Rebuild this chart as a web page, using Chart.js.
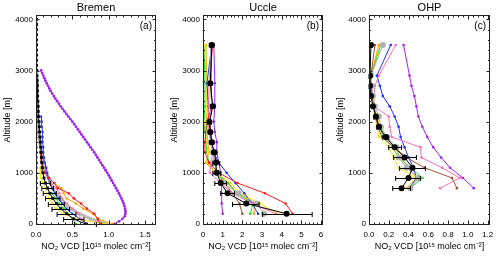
<!DOCTYPE html>
<html><head><meta charset="utf-8">
<script src="https://cdn.jsdelivr.net/npm/chart.js@4"></script>
<style>
html,body{margin:0;padding:0;background:#fff;width:500px;height:256px;overflow:hidden}
canvas{position:absolute;top:0}
</style></head><body>
<canvas id="ca" width="167" height="256" style="left:0px"></canvas>
<canvas id="cb" width="166" height="256" style="left:167px"></canvas>
<canvas id="cc" width="167" height="256" style="left:333px"></canvas>
<script>
// ---------- axis tick labels ----------
const altTicks = [0,1000,2000,3000,4000];
const bremenXTicks = [0,0.5,1.0,1.5];
const uccleXTicks = [0,1,2,3,4,5,6];
const ohpXTicks = [0,0.2,0.4,0.6,0.8,1.0,1.2];

// ---------- Bremen (a) ----------
const bremenAlt = [0,100,200,300,400,500,600,700,800,900,1000,1100,1200,1300,1400,1500,1600,1700,1800,1900,2000,2100,2200,2300,2400,2500,2600,2700,2800,2900,3000,3100,3200,3300,3400,3500,3600,3700,3800,3900,4000];
const bremenBlack = [0.68,0.52,0.42,0.34,0.28,0.23,0.19,0.16,0.13,0.11,0.095,0.085,0.08,0.075,0.07,0.065,0.06,0.055,0.05,0.045,0.04,0.035,0.03,0.028,0.025,0.022,0.02,0.018,0.015,0.012,0.01,0.008,0.008,0.008,0.008,0.008,0.008,0.008,0.008,0.008,0.008];
const bremenBlackErrLo = [0.53,0.38,0.29,0.22,0.17,0.13,0.10,0.08,0.06];
const bremenBlackErrHi = [0.83,0.66,0.55,0.46,0.39,0.33,0.28,0.24,0.20];
const bremenGray = [0.97,0.75,0.6,0.48,0.4,0.33,0.27,0.23,0.2,0.17,0.15,0.13,0.11,0.09,0.08,0.07,0.05,0.04,0.035,0.03,0.03,0.028,0.026,0.024,0.022,0.02,0.018,0.016,0.014,0.012,0.01];
const bremenBlue = [0.7,0.6,0.5,0.42,0.36,0.3,0.26,0.22,0.19,0.17,0.15,0.14,0.12,0.11,0.1,0.1,0.09,0.09,0.09,0.08,0.08,0.07];
const bremenBrown = [0.004,0.004,0.004,0.004,0.004,0.004,0.004,0.004,0.004,0.004,0.004,0.004,0.004,0.004,0.004,0.004];
const bremenRed = [0.88,0.85,0.8,0.7,0.62,0.52,0.45,0.3,0.25,0.18,0.12,0.1,0.08,0.07,0.06];
const bremenOrange = [1.05,0.85,0.78,0.65,0.55,0.42,0.38,0.35,0.25];
const bremenGreen = [0.55,0.5,0.44,0.38,0.32,0.27,0.22];
const bremenYellow = [0.95,0.55,0.38,0.28,0.22,0.18,0.15,0.12,0.1,0.07,0.06,0.06];
const bremenPink = [0.7,0.62,0.58,0.5,0.42,0.36,0.32,0.28,0.2];
const bremenPurpleAlt = [0,50,100,150,200,250,300,350,400,450,500,550,600,650,700,750,800,850,900,950,1000,1050,1100,1150,1200,1250,1300,1350,1400,1450,1500,1550,1600,1650,1700,1750,1800,1850,1900,1950,2000,2050,2100,2150,2200,2250,2300,2350,2400,2450,2500,2550,2600,2650,2700,2750,2800,2850,2900,2950,3000];
const bremenPurple = [1.08,1.14,1.19,1.22,1.23,1.23,1.225,1.215,1.205,1.19,1.175,1.157,1.14,1.12,1.10,1.08,1.06,1.04,1.02,1.0,0.98,0.957,0.935,0.912,0.89,0.867,0.845,0.822,0.80,0.775,0.75,0.725,0.70,0.675,0.65,0.625,0.60,0.575,0.55,0.525,0.50,0.472,0.445,0.417,0.39,0.365,0.34,0.315,0.29,0.267,0.245,0.222,0.20,0.182,0.165,0.147,0.13,0.115,0.10,0.085,0.07];

// ---------- Uccle (b) ----------
const uccleAlt = [200,400,600,800,1000,1200,1400,1600,1800,2000,2300,2750,3500];
const uccleBlack = [4.25,2.2,1.25,0.9,0.7,0.67,0.57,0.45,0.37,0.33,0.5,0.37,0.45];
const uccleBlackErrLo = [3.03,1.5,0.9,0.6,0.5,0.5,0.45,0.35,0.3,0.25,0.4,0.3,0.35];
const uccleBlackErrHi = [5.55,2.85,1.6,1.2,0.9,0.85,0.7,0.55,0.45,0.42,0.6,0.45,0.55];
const uccleGray = [3.1,2.75,1.8,1.0,0.75,0.55,0.5,0.4,0.3,0.3,0.45,0.35,0.4];
const uccleRed = [4.55,4.2,3.15,1.75,0.8,0.3,0.1,0.1,0.15,0.2,0.45,0.4,0.45];
const uccleBlue = [2.8,2.5,2.1,1.65,1.2,0.8,0.55,0.4,0.35,0.3,0.28,0.2,0.45];
const uccleGreen = [2.4,2.55,1.7,1.3,0.6,0.3,0.2,0.15,0.1,0.05,0.1,0.1,0.05];
const uccleYellow = [3.8,2.9,1.9,1.4,0.65,0.2,0.25,0.2,0.15,0.1,0.2,0.15,0.1];
const uccleOrange = [2.6,2.6,1.8,1.2,0.6,0.15,0.3,0.25,0.2,0.15,0.25,0.2,0.15];
const uccleBrown = [2.0,1.85,1.5,1.1,0.7,0.6,0.5,0.45,0.4,0.35,0.45,0.4,0.4];
const ucclePurple = [1.0,0.95,0.95,0.95,0.9,0.8,0.7,0.7,0.6,0.55,0.6,0.6,0.55];
const ucclePink = [3.7,2.5,1.5,0.9,0.35,0.4,0.5,0.4,0.3,0.25,0.3,0.3,0.5];

// ---------- OHP (c) ----------
const ohpAlt = [700,900,1100,1300,1500,1700,1900,2100,2300,2500,2700,2900,3500];
const ohpPurple = [1.06,0.95,0.82,0.73,0.65,0.59,0.54,0.5,0.48,0.46,0.43,0.41,0.35];
const ohpPink = [0.72,0.92,0.74,0.53,0.52,0.23,0.21,0.2,0.05,0.05,0.06,0.1,0.27];
const ohpBlue = [0.41,0.48,0.45,0.4,0.36,0.32,0.3,0.26,0.21,0.14,0.11,0.08,0.22];
const ohpBrown = [0.89,0.84,0.56,0.38,0.25,0.13,0.09,0.07,0.05,0.03,0.02,0.02,0.06];
const ohpGreen = [0.42,0.54,0.42,0.3,0.24,0.15,0.1,0.07,0.05,0.03,0.02,0.02,0.12];
const ohpYellow = [0.38,0.47,0.3,0.25,0.2,0.1,0.08,0.06,0.04,0.03,0.02,0.02,0.1];
const ohpOrange = [0.4,0.48,0.4,0.32,0.26,0.16,0.11,0.08,0.05,0.03,0.02,0.02,0.1];
const ohpGray = [0.42,0.5,0.38,0.3,0.28,0.18,0.12,0.1,0.06,0.04,0.03,0.02,0.14];
const ohpBlack = [0.33,0.4,0.44,0.36,0.26,0.17,0.1,0.07,0.04,0.02,0.01,0.01,0.02];
const ohpBlackErrLo = [0.24,0.27,0.31,0.25,0.2,0.14,0.08,0.05,0.03,0.01,0.0,0.0,0.01];
const ohpBlackErrHi = [0.42,0.52,0.57,0.48,0.33,0.2,0.12,0.09,0.05,0.03,0.02,0.02,0.03];

const xTitle = 'NO\u2082 VCD [10\u00b9\u2075 molec cm\u207b\u00b2]';
const yTitle = 'Altitude [m]';
const FONT = '"Liberation Sans", Arial, Helvetica, sans-serif';
const COL = {purple:'#a020f0', blue:'#1f2fff', red:'#ff1a1a', orange:'#ffa500', green:'#22dd22',
  yellow:'#f2e600', pink:'#ff6eb4', brown:'#a0522d', gray:'#b9b9b9', black:'#000000'};

function series(xs, alts, color, opt) {
  return Object.assign({
    data: xs.map((x, i) => ({x: x, y: alts[i]})),
    showLine: true, borderColor: color, backgroundColor: color,
    borderWidth: 1, pointRadius: 1.3, pointBorderWidth: 0, pointHoverRadius: 0, tension: 0
  }, opt || {});
}

const framePlugin = {
  id: 'frame',
  afterDatasetsDraw(chart) {
    const ctx = chart.ctx, xs = chart.scales.x, ys = chart.scales.y;
    ctx.save();
    ctx.strokeStyle = '#000'; ctx.lineWidth = 1;
    chart.data.datasets.forEach(ds => {
      if (!ds.errLo) return;
      for (let i = 0; i < ds.errLo.length; i++) {
        const y = Math.round(ys.getPixelForValue(ds.data[i].y)) + 0.5;
        const a = xs.getPixelForValue(ds.errLo[i]), b = xs.getPixelForValue(ds.errHi[i]);
        ctx.beginPath();
        ctx.moveTo(a, y); ctx.lineTo(b, y);
        ctx.moveTo(a, y - 2.5); ctx.lineTo(a, y + 2.5);
        ctx.moveTo(b, y - 2.5); ctx.lineTo(b, y + 2.5);
        ctx.stroke();
      }
    });
    ctx.restore();
  },
  afterDraw(chart, args, o) {
    const ctx = chart.ctx, a = chart.chartArea, xs = chart.scales.x, ys = chart.scales.y;
    ctx.save();
    ctx.strokeStyle = '#222'; ctx.lineWidth = 1;
    const L = Math.round(a.left) + 0.5, R = Math.round(a.right) - 0.5, T = Math.round(a.top) + 0.5, B = Math.round(a.bottom) - 0.5;
    ctx.strokeRect(L, T, R - L, B - T);
    ctx.beginPath();
    const majX = xs.ticks.map(t => t.value), majY = ys.ticks.map(t => t.value);
    const tickX = (v, len) => { const p = Math.round(xs.getPixelForValue(v)) + 0.5; ctx.moveTo(p, B); ctx.lineTo(p, B - len); ctx.moveTo(p, T); ctx.lineTo(p, T + len); };
    const tickY = (v, len) => { const p = Math.round(ys.getPixelForValue(v)) + 0.5; ctx.moveTo(L, p); ctx.lineTo(L + len, p); ctx.moveTo(R, p); ctx.lineTo(R - len, p); };
    majX.forEach(v => tickX(v, 4));
    majY.forEach(v => tickY(v, 3));
    for (let k = 0; k * o.xMinor <= xs.max + 1e-9; k++) { const v = k * o.xMinor; if (!majX.some(m => Math.abs(m - v) < 1e-6)) tickX(v, 2); }
    for (let k = 0; k * o.yMinor <= ys.max + 1e-9; k++) { const v = k * o.yMinor; if (!majY.some(m => Math.abs(m - v) < 1e-6)) tickY(v, 1.5); }
    ctx.stroke();
    ctx.fillStyle = '#000';
    ctx.font = '11px ' + FONT; ctx.textAlign = 'center'; ctx.textBaseline = 'middle';
    ctx.fillText(o.title, (a.left + a.right) / 2, 8);
    ctx.font = '10px ' + FONT; ctx.textAlign = 'right';
    ctx.fillText(o.tag, a.right - 4, 26);
    ctx.restore();
  }
};

function makeChart(id, datasets, xmax, xTicks, xdec, xMinor, padRight, title, tag) {
  return new Chart(document.getElementById(id), {
    type: 'scatter',
    data: {datasets: datasets},
    plugins: [framePlugin],
    options: {
      responsive: false, animation: false, events: [],
      layout: {padding: {top: 15, right: padRight, left: 0, bottom: 0}},
      plugins: {legend: {display: false}, tooltip: {enabled: false}, title: {display: false},
        frame: {title: title, tag: tag, xMinor: xMinor, yMinor: 200}},
      scales: {
        x: {type: 'linear', min: 0, max: xmax, grid: {display: false, drawTicks: false, tickLength: 0}, border: {display: false},
          ticks: {padding: 5, maxRotation: 0, autoSkip: false,
            font: {size: 8, family: FONT}, color: '#000', callback: v => v.toFixed(xdec)},
          afterBuildTicks(s) { s.ticks = xTicks.map(v => ({value: v})); },
          title: {display: true, text: xTitle, font: {size: 9, family: FONT}, color: '#000', padding: {top: 0, bottom: 4}},
          afterFit(s) { s.height = 31; }},
        y: {type: 'linear', min: -20, max: 4085, grid: {display: false, drawTicks: false, tickLength: 0}, border: {display: false},
          ticks: {padding: 3, autoSkip: false, font: {size: 8, family: FONT}, color: '#000',
            callback: v => String(v)},
          afterBuildTicks(s) { s.ticks = altTicks.map(v => ({value: v})); },
          title: {display: true, text: yTitle, font: {size: 9, family: FONT}, color: '#000', padding: {top: 2, bottom: 0}},
          afterFit(s) { s.width = 36; }}
      }
    }
  });
}

// datasets: first in list is drawn on top
makeChart('ca', [
  series(bremenPurple, bremenPurpleAlt, COL.purple, {pointRadius: 1.4}),
  series(bremenBlack, bremenAlt, COL.black, {pointStyle: 'rect', pointRadius: 2, errLo: bremenBlackErrLo, errHi: bremenBlackErrHi}),
  series(bremenRed, bremenAlt, COL.red),
  series(bremenOrange, bremenAlt, COL.orange, {pointStyle: 'rect', pointRadius: 1.6}),
  series(bremenPink, bremenAlt, COL.pink, {pointStyle: 'rect', pointRadius: 1.6}),
  series(bremenGreen, bremenAlt, COL.green),
  series(bremenYellow, bremenAlt, COL.yellow),
  series(bremenBlue, bremenAlt, COL.blue, {pointStyle: 'rect', pointRadius: 1.5}),
  series(bremenGray, bremenAlt, COL.gray, {borderWidth: 3, pointRadius: 2}),
  series(bremenBrown, bremenAlt, COL.brown, {pointRadius: 1.6})
], 1.65, bremenXTicks, 1, 0.1, 11, 'Bremen', '(a)');

makeChart('cb', [
  series(uccleBlack, uccleAlt, COL.black, {pointRadius: 3, errLo: uccleBlackErrLo, errHi: uccleBlackErrHi}),
  series(uccleGray, uccleAlt, '#b0b0b0', {pointRadius: 3}),
  series(uccleRed, uccleAlt, COL.red),
  series(ucclePink, uccleAlt, COL.pink),
  series(uccleBlue, uccleAlt, COL.blue),
  series(uccleYellow, uccleAlt, COL.yellow),
  series(uccleGreen, uccleAlt, COL.green),
  series(uccleOrange, uccleAlt, COL.orange),
  series(uccleBrown, uccleAlt, COL.brown),
  series(ucclePurple, uccleAlt, COL.purple)
], 6.1, uccleXTicks, 0, 0.2, 10, 'Uccle', '(b)');

makeChart('cc', [
  series(ohpBlack, ohpAlt, COL.black, {pointRadius: 3, errLo: ohpBlackErrLo, errHi: ohpBlackErrHi}),
  series(ohpGray, ohpAlt, '#b0b0b0', {pointRadius: 3}),
  series(ohpPurple, ohpAlt, COL.purple),
  series(ohpPink, ohpAlt, COL.pink),
  series(ohpBlue, ohpAlt, COL.blue),
  series(ohpBrown, ohpAlt, COL.brown),
  series(ohpGreen, ohpAlt, COL.green),
  series(ohpOrange, ohpAlt, COL.orange),
  series(ohpYellow, ohpAlt, COL.yellow)
], 1.225, ohpXTicks, 1, 0.05, 10, 'OHP', '(c)');
</script>
</body></html>
